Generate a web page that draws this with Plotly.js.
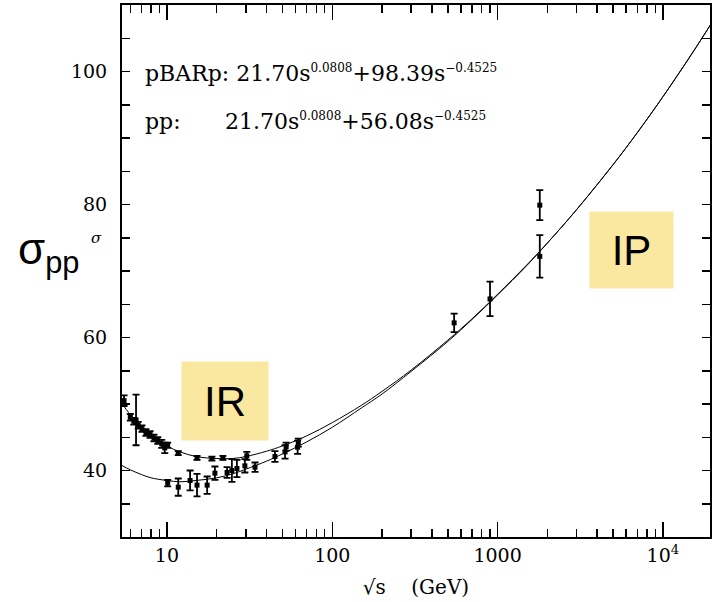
<!DOCTYPE html>
<html>
<head>
<meta charset="utf-8">
<script src="https://cdn.plot.ly/plotly-3.0.1.min.js"></script>
<style>html,body{margin:0;padding:0;background:#fff;}#chart{width:712px;height:602px;}</style>
</head>
<body>
<div id="chart"></div>
<script>
// Fit curves (sqrt(s) in GeV, sigma in mb)
const curveSqrtS = [5.3, 6, 7, 8, 10, 12, 15, 20, 25, 30, 40, 50, 70, 100, 150, 200, 300, 500, 700, 1000, 1500, 2000, 3000, 5000, 7000, 10000, 15000, 19500];
const curvePbarP = [50.2, 48.4, 46.6, 45.4, 43.7, 42.8, 42.1, 41.8, 41.8, 42.1, 42.9, 43.7, 45.2, 47.2, 49.8, 51.9, 55.1, 59.6, 62.8, 66.5, 70.9, 74.2, 79.2, 86.0, 90.8, 96.2, 102.7, 107.1];
const curvePP    = [40.8, 40.1, 39.4, 38.9, 38.5, 38.3, 38.5, 38.9, 39.5, 40.2, 41.4, 42.5, 44.3, 46.5, 49.4, 51.5, 54.9, 59.4, 62.7, 66.4, 70.8, 74.2, 79.2, 86.0, 90.8, 96.2, 102.7, 107.1];

// Measured points, anti-proton-proton (upper branch + collider)
const pbarpSqrtS = [5.5, 6.0, 6.3, 6.5, 6.7, 7.06, 7.46, 7.9, 8.35, 8.8, 9.3, 9.7, 10.1, 11.7, 15.2, 18.7, 21.8, 30.4, 52.6, 62.3, 546, 900, 1800, 1800];
const pbarpSigma = [50.5, 48.0, 47.4, 47.6, 46.8, 46.3, 45.7, 45.4, 44.9, 44.5, 44.0, 43.4, 43.8, 42.6, 41.9, 41.8, 41.9, 42.2, 43.6, 44.2, 62.2, 65.8, 72.2, 79.9];
const pbarpErr   = [0.8, 0.5, 0.5, 3.8, 0.5, 0.5, 0.5, 0.5, 0.5, 0.5, 0.6, 0.8, 0.4, 0.3, 0.3, 0.3, 0.3, 0.6, 0.6, 0.6, 1.4, 2.6, 3.2, 2.25];

// Measured points, proton-proton (lower branch)
const ppSqrtS = [10.1, 11.7, 13.8, 15.2, 17.5, 19.5, 23.1, 24.7, 26.5, 29.6, 34.1, 45.0, 51.8, 61.7];
const ppSigma = [38.1, 37.5, 38.5, 37.8, 37.8, 39.6, 39.7, 40.0, 40.3, 40.7, 40.5, 42.1, 42.8, 43.5];
const ppErr   = [0.5, 1.3, 1.5, 1.7, 1.3, 1.0, 0.8, 1.7, 1.3, 1.0, 0.7, 0.8, 1.0, 1.0];

const xTickVals = [10, 100, 1000, 10000];
const xTickText = ['10', '100', '1000', '10<sup>4</sup>'];
const xMinorVals = [6, 7, 8, 9, 20, 30, 40, 50, 60, 70, 80, 90, 200, 300, 400, 500, 600, 700, 800, 900, 2000, 3000, 4000, 5000, 6000, 7000, 8000, 9000];
const yTickVals = [40, 60, 80, 100];
const yTickText = ['40', '60', '80', '100'];

const serif = 'DejaVu Serif, serif';
const ptStyle = {
  mode: 'markers', type: 'scatter', showlegend: false,
  marker: {symbol: 'square', size: 5, color: '#000'}
};
function errs(a){ return {type: 'data', array: a, visible: true, color: '#000', thickness: 1.8, width: 3.5}; }

const data = [
  {x: curveSqrtS, y: curvePbarP, mode: 'lines', type: 'scatter', showlegend: false, line: {color: '#000', width: 1, shape: 'spline'}},
  {x: curveSqrtS, y: curvePP, mode: 'lines', type: 'scatter', showlegend: false, line: {color: '#000', width: 1, shape: 'spline'}},
  Object.assign({x: pbarpSqrtS, y: pbarpSigma, error_y: errs(pbarpErr)}, ptStyle),
  Object.assign({x: ppSqrtS, y: ppSigma, error_y: errs(ppErr)}, ptStyle)
];

const L = 122, R = 710, T = 5, B = 537;
function px(x){ return (x - L) / (R - L); }
function py(y){ return (B - y) / (B - T); }
function sup(t){ return '<sup><span style="font-size:12px">' + t + '</span></sup>'; }

const layout = {
  width: 712, height: 602,
  margin: {l: L, r: 712 - R, t: T, b: 602 - B, pad: 0},
  paper_bgcolor: '#fff', plot_bgcolor: '#fff',
  showlegend: false,
  xaxis: {
    type: 'log', range: [0.728, 4.285],
    tickmode: 'array', tickvals: xTickVals, ticktext: xTickText,
    ticks: 'inside', ticklen: 15, tickwidth: 1.5, tickcolor: '#000',
    minor: {tickmode: 'array', tickvals: xMinorVals, ticks: 'inside', ticklen: 8, tickwidth: 1.5, tickcolor: '#000', showgrid: false},
    showline: true, linewidth: 2, linecolor: '#000', mirror: 'ticks',
    showgrid: false, zeroline: false,
    tickfont: {family: serif, size: 19, color: '#000'},
    ticklabelstandoff: 0,
    title: {text: '\u221As\u00A0\u00A0\u00A0\u00A0(GeV)', font: {family: serif, size: 20, color: '#000'}, standoff: 15}
  },
  yaxis: {
    range: [30, 110],
    tickmode: 'array', tickvals: yTickVals, ticktext: yTickText,
    ticks: 'inside', ticklen: 8, tickwidth: 1.5, tickcolor: '#000',
    minor: {dtick: 5, ticks: 'inside', ticklen: 8, tickwidth: 1.5, tickcolor: '#000', showgrid: false},
    showline: true, linewidth: 2, linecolor: '#000', mirror: 'ticks',
    showgrid: false, zeroline: false,
    tickfont: {family: serif, size: 19, color: '#000'},
    ticklabelstandoff: 9
  },
  annotations: [
    {xref: 'paper', yref: 'paper', x: px(143), y: py(73), xanchor: 'left', yanchor: 'middle', showarrow: false,
     text: 'pBARp: 21.70s' + sup('0.0808') + '+98.39s' + sup('\u22120.4525'), font: {family: serif, size: 22, color: '#000'}},
    {xref: 'paper', yref: 'paper', x: px(143), y: py(121), xanchor: 'left', yanchor: 'middle', showarrow: false,
     text: 'pp:', font: {family: serif, size: 22, color: '#000'}},
    {xref: 'paper', yref: 'paper', x: px(223), y: py(121), xanchor: 'left', yanchor: 'middle', showarrow: false,
     text: '21.70s' + sup('0.0808') + '+56.08s' + sup('\u22120.4525'), font: {family: serif, size: 22, color: '#000'}},
    {xref: 'paper', yref: 'paper', x: px(16), y: py(252), xanchor: 'left', yanchor: 'middle', showarrow: false,
     text: '\u03C3<sub>pp</sub>', font: {family: 'Liberation Sans, Arial, sans-serif', size: 44, color: '#000'}},
    {xref: 'paper', yref: 'paper', x: px(96), y: py(238), xanchor: 'center', yanchor: 'middle', showarrow: false,
     text: '<i>\u03C3</i>', font: {family: serif, size: 15, color: '#000'}},
    {xref: 'paper', yref: 'paper', x: px(225), y: py(401), xanchor: 'center', yanchor: 'middle', showarrow: false,
     text: 'IR', width: 86, height: 78, bgcolor: '#FBE8A0', borderpad: 0,
     font: {family: 'Liberation Sans, Arial, sans-serif', size: 42, color: '#000'}},
    {xref: 'paper', yref: 'paper', x: px(631.5), y: py(250), xanchor: 'center', yanchor: 'middle', showarrow: false,
     text: 'IP', width: 83, height: 76, bgcolor: '#FBE8A0', borderpad: 0,
     font: {family: 'Liberation Sans, Arial, sans-serif', size: 42, color: '#000'}}
  ]
};

Plotly.newPlot('chart', data, layout, {staticPlot: true, displayModeBar: false});
</script>
</body>
</html>
